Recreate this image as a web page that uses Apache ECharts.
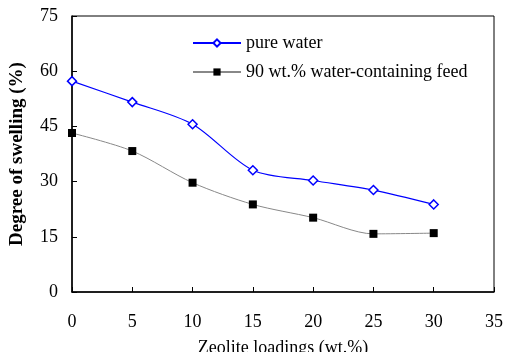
<!DOCTYPE html>
<html>
<head>
<meta charset="utf-8">
<script src="https://cdn.jsdelivr.net/npm/echarts@6/dist/echarts.min.js"></script>
<style>
  html, body { margin: 0; padding: 0; background: #fff; }
  #chart { width: 505px; height: 352px; }
</style>
</head>
<body>
<div id="chart"></div>
<script>
var loadings = [0, 5, 10, 15, 20, 25, 30];
var pureWater = [57.3, 51.6, 45.6, 33.1, 30.3, 27.7, 23.8];
var feed90 = [43.2, 38.3, 29.7, 23.8, 20.2, 15.8, 16.0];

var font = 'Liberation Serif';

function pairs(xs, ys) {
  return xs.map(function (x, i) { return [x, ys[i]]; });
}

var option = {
  animation: false,
  grid: {
    left: 72, right: 11, top: 16, bottom: 60,
    outerBoundsMode: 'none',
    show: true, borderColor: '#000', borderWidth: 1
  },
  legend: {
    orient: 'vertical',
    left: 187, top: 29,
    itemWidth: 48, itemHeight: 9, itemGap: 11,
    textStyle: { fontFamily: font, fontSize: 18, color: '#000' },
    data: ['pure water', '90 wt.% water-containing feed']
  },
  xAxis: {
    type: 'value', min: 0, max: 35, interval: 5,
    name: 'Zeolite loadings (wt.%)',
    nameLocation: 'middle', nameGap: 47,
    nameTextStyle: { fontFamily: font, fontSize: 18, color: '#000' },
    axisLine: { onZero: false, lineStyle: { color: '#000', width: 1.5 } },
    axisTick: { inside: true, length: 5, lineStyle: { color: '#000' } },
    axisLabel: { fontFamily: font, fontSize: 18, color: '#000', margin: 21 },
    splitLine: { show: false }
  },
  yAxis: {
    type: 'value', min: 0, max: 75, interval: 15,
    name: 'Degree of swelling (%)',
    nameLocation: 'middle', nameGap: 45,
    nameTextStyle: { fontFamily: font, fontSize: 19, fontWeight: 'bold', color: '#000' },
    axisLine: { show: true, lineStyle: { color: '#000', width: 1.5 } },
    axisTick: { show: true, inside: true, length: 5, lineStyle: { color: '#000' } },
    axisLabel: { fontFamily: font, fontSize: 18, color: '#000', margin: 14 },
    splitLine: { show: false }
  },
  series: [
    {
      name: 'pure water',
      type: 'line',
      smooth: 0.3,
      data: pairs(loadings, pureWater),
      symbol: 'diamond',
      symbolSize: 9,
      itemStyle: { color: '#fff', borderColor: '#0000ff', borderWidth: 1.5 },
      lineStyle: { color: '#0000ff', width: 1.2 }
    },
    {
      name: '90 wt.% water-containing feed',
      type: 'line',
      smooth: 0.3,
      data: pairs(loadings, feed90),
      symbol: 'rect',
      symbolSize: 8,
      itemStyle: { color: '#000' },
      lineStyle: { color: '#888', width: 1 }
    }
  ]
};

var chart = echarts.init(document.getElementById('chart'));
chart.setOption(option);
</script>
</body>
</html>
